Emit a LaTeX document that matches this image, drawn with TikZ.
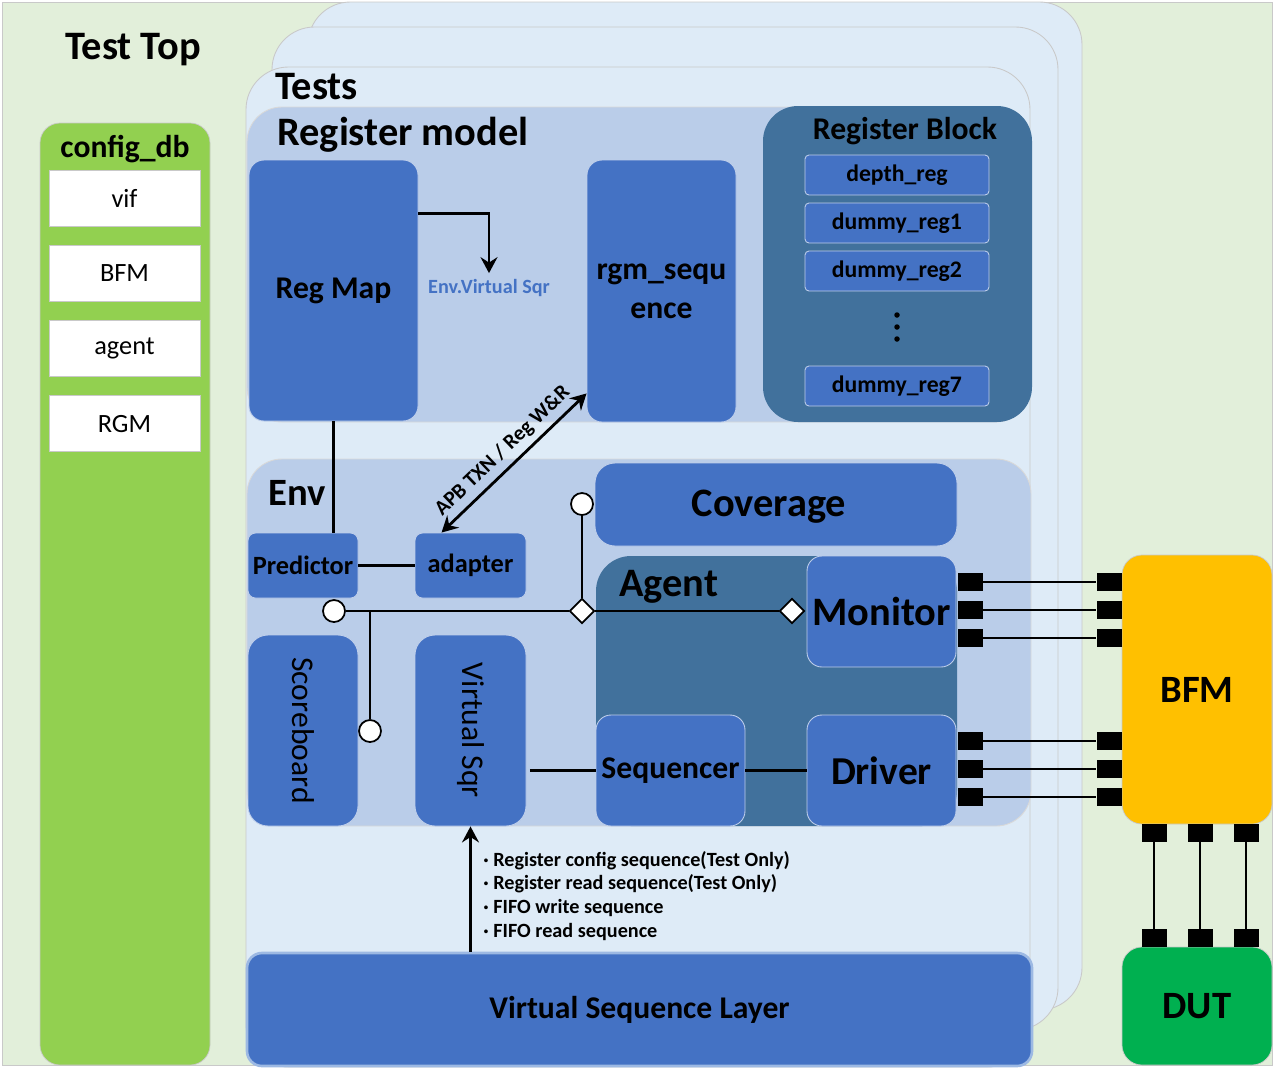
\documentclass[tikz,border=0pt]{standalone}
\usepackage{fontspec}
\setmainfont{Carlito}
\usetikzlibrary{positioning,calc,shapes.geometric,arrows.meta}

\definecolor{topbg}{HTML}{E2EFDA}
\definecolor{cfggreen}{HTML}{92D050}
\definecolor{sheetbg}{HTML}{DEEBF7}
\definecolor{regionbg}{HTML}{BACDE9}
\definecolor{blkblue}{HTML}{4472C4}
\definecolor{deepblue}{HTML}{41719C}
\definecolor{bfmorange}{HTML}{FFC000}
\definecolor{dutgreen}{HTML}{00B050}
\definecolor{edgegray}{HTML}{C9C9C9}
\definecolor{glowblue}{HTML}{9DB9E3}

\newcommand{\fsz}[1]{\fontsize{#1}{#1}\selectfont}

\tikzset{
  sz/.style 2 args={minimum width=#1*0.02cm, minimum height=#2*0.02cm, inner sep=0pt},
  sheet/.style={fill=sheetbg, draw=edgegray, line width=0.5pt, rounded corners=0.85cm},
  region/.style={fill=regionbg, draw=edgegray!70, line width=0.5pt, rounded corners=0.7cm},
  deep/.style={fill=deepblue, rounded corners=0.7cm},
  blk/.style={fill=blkblue, draw=white!65!blkblue, line width=0.5pt, rounded corners=0.3cm},
  regbox/.style={blk, rounded corners=0.08cm, font=\fsz{13.5}\bfseries},
  cfgitem/.style={fill=white, draw=edgegray, line width=0.5pt, font=\fsz{15}},
  title/.style={font=\fsz{#1}\bfseries, inner sep=0pt},
  wire/.style={line width=1.6pt},
  arr/.style={line width=1.6pt, -{Stealth[length=3.2mm, width=3.4mm, inset=1.1mm]}},
  darr/.style={line width=1.6pt, {Stealth[length=3.2mm, width=3.4mm, inset=1.1mm]}-{Stealth[length=3.2mm, width=3.4mm, inset=1.1mm]}},
  pin/.style={fill=black, minimum width=0.5cm, minimum height=0.35cm, inner sep=0pt},
  vpin/.style={fill=black, minimum width=0.5cm, minimum height=0.36cm, inner sep=0pt},
  port/.style={circle, fill=white, draw=black, line width=1pt, minimum size=0.44cm, inner sep=0pt},
  tap/.style={diamond, fill=white, draw=black, line width=1pt, minimum size=0.5cm, inner sep=0pt},
}

\begin{document}
\begin{tikzpicture}[x=0.02cm, y=-0.02cm]
    \useasboundingbox (0,0) rectangle (1275,1073);
    % test top
    \path[fill=topbg, draw=edgegray] (2,2) rectangle (1272,1065);
    \node[title=23] (toptxt) at (133,50) {Test Top};

    % config_db
    \node[sz={170}{942}, fill=cfggreen, draw=edgegray, rounded corners=0.4cm] (cfg) at (125,594) {};
    \node[title=18] (cfgtxt) at (125,149) {config\_db};
    \foreach \txt [count=\i] in {vif, BFM, agent, RGM}
    {
        \pgfmathsetmacro\yc{198+75.3*(\i-1)}
        \node[cfgitem, sz={151}{56}] (cfg\i) at (124.5,\yc) {\txt};
    }

    % stacked tests
    \path[sheet] (308,1010) rectangle (1082,2);
    \path[sheet] (272,1030) rectangle (1058,27);
    \path[sheet] (246,1067) rectangle (1030,67);
    \node[title=23, anchor=west] (teststxt) at (275,87) {Tests};

    % register model
    \node[region, sz={783}{315}] (rmreg) at (638.5,264.5) {};
    \node[title=23, anchor=west] (rmtxt) at (277,135) {Register model};
    \node[deep, sz={269}{316}] (rblk) at (897.5,264) {};
    \node[title=18] (rblktxt) at (905,131) {Register Block};
    \foreach \nm/\yc [count=\i] in {depth\_reg/175, dummy\_reg1/223, dummy\_reg2/271, dummy\_reg7/386}
    {
        \node[regbox, sz={184}{40}] (reg\i) at (897,\yc) {\nm};
    }
    \foreach \y in {315, 327, 339}
        \fill (897,\y) circle (0.055cm);
    \node[blk, sz={169}{261}, font=\fsz{18}\bfseries] (regmap) at (333.5,290.5) {Reg Map};
    \node[blk, sz={149}{262}, font=\fontsize{18}{22}\selectfont\bfseries, align=center] (rgmseq) at (661.5,291) {rgm\_sequ\\ence};
    \node[font=\fsz{11.5}\bfseries, text=blkblue] (evs) at (489,288) {Env.Virtual Sqr};
    \draw[arr] ($(regmap.north east)+(0,54)$) -| (evs.north);

    % env
    \node[region, sz={784}{367}] (envreg) at (639,642.5) {};
    \node[title=22, anchor=west] (envtxt) at (268,493) {Env};
    \node[blk, sz={110}{65}, rounded corners=0.15cm, font=\fsz{15}\bfseries] (pred) at (303,565.5) {Predictor};
    \node[blk, sz={111}{65}, rounded corners=0.15cm, font=\fsz{15}\bfseries] (adapt) at (470.5,565.5) {adapter};
    \node[blk, sz={362}{83}, rounded corners=0.4cm] (cov) at (776,504.5) {};
    \node[title=23] (covtxt) at (769,507) {Coverage};
    \node[deep, sz={361}{270}] (agent) at (776.5,691) {};
    \node[title=23, anchor=west] (agenttxt) at (619,587) {Agent};
    \node[blk, sz={149}{111}, font=\fsz{23}\bfseries] (mon) at (881.5,611.5) {Monitor};
    \node[blk, sz={149}{111}, font=\fsz{18}\bfseries] (seq) at (670.5,770.5) {Sequencer};
    \node[blk, sz={149}{111}, font=\fsz{22.5}\bfseries] (drv) at (881.5,770.5) {Driver};
    \node[blk, sz={191}{110}, rounded corners=0.4cm, rotate=-90, font=\fsz{18}] (score) at (303,730.5) {Scoreboard};
    \node[blk, sz={191}{111}, rounded corners=0.4cm, rotate=-90, font=\fsz{18}] (vsqr) at (470.5,730.5) {Virtual Sqr};

    \draw[wire] (regmap.south) -- (regmap.south |- pred.north);
    \draw[wire] (pred) -- (adapt);
    \draw[darr] ($(adapt.north west)+(27,0)$) -- node[sloped, above, font=\fsz{12}\bfseries] (apbtxt) {APB TXN / Reg W\&R} ($(rgmseq.south west)+(0,-29)$);

    % analysis ports
    \node[port] (p1) at (334,611) {};
    \node[tap] (t1) at (582,611) {};
    \node[tap] (t2) at (792,611) {};
    \node[port] (p2) at (582,504) {};
    \node[port] (p3) at (370,731) {};
    \draw[wire] (p1) -- (t1) -- (t2);
    \draw[wire] (p1 -| p3) -- (p3);
    \draw[wire] (t1) -- (p2);
    \draw[wire, shorten <=2pt] (seq.west -| vsqr.north) -- (seq.west);
    \draw[wire] (seq) -- (drv);

    % virtual sequence layer
    \node[blk, sz={785}{113}, draw=glowblue, line width=1.5pt, font=\fsz{18}\bfseries] (vsl) at (639.5,1009.5) {Virtual Sequence Layer};
    \draw[arr] (vsl.north -| vsqr.center) -- (vsqr.east);
    \node[anchor=west, align=left, inner sep=0pt, font=\fontsize{11.5}{13.6}\selectfont\bfseries] (seqlist) at (483,896)
        {· Register config sequence(Test Only)\\· Register read sequence(Test Only)\\· FIFO write sequence\\· FIFO read sequence};

    % bfm and dut
    \node[sz={150}{269}, fill=bfmorange, draw=edgegray, rounded corners=0.4cm, font=\fsz{22}\bfseries] (bfm) at (1197,689.5) {BFM};
    \node[sz={150}{118}, fill=dutgreen, draw=edgegray, rounded corners=0.4cm, font=\fsz{22}\bfseries] (dut) at (1197,1006) {DUT};
    \foreach \y [count=\i] in {582, 610, 638, 741, 769, 797}
    {
        \node[pin] (lp\i) at (970,\y) {};
        \node[pin] (rp\i) at (1109,\y) {};
        \draw[line width=0.6pt] (lp\i) -- (rp\i);
    }
    \foreach \x [count=\i] in {1154, 1200, 1246}
    {
        \node[vpin] (tp\i) at (\x,833) {};
        \node[vpin] (dp\i) at (\x,938) {};
        \draw[line width=0.6pt] (tp\i) -- (dp\i);
    }
\end{tikzpicture}
\end{document}
